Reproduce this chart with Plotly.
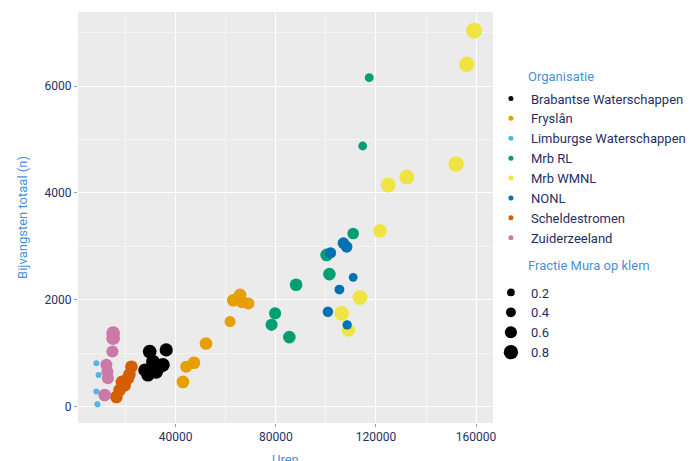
import plotly.graph_objects as go

# ---- data ----
organisaties = ["Brabantse Waterschappen", "Fryslân", "Limburgse Waterschappen", "Mrb RL",
                "Mrb WMNL", "NONL", "Scheldestromen", "Zuiderzeeland"]

uren_brabantse = [29600, 36200, 30900, 33600, 32200, 28900, 34900, 27700]
vangst_brabantse = [1030, 1060, 840, 745, 650, 590, 780, 680]
fractie_brabantse = [0.75, 0.7, 0.75, 0.75, 0.75, 0.7, 0.75, 0.7]

uren_fryslan = [63000, 65700, 69000, 66500, 61700, 52100, 47300, 44200, 42900]
vangst_fryslan = [1990, 2090, 1930, 1960, 1590, 1180, 820, 745, 460]
fractie_fryslan = [0.65, 0.65, 0.6, 0.65, 0.5, 0.65, 0.65, 0.6, 0.65]

uren_limburg = [8300, 9200, 8300, 8700]
vangst_limburg = [810, 590, 280, 40]
fractie_limburg = [0.05, 0.05, 0.05, 0.05]

uren_mrbrl = [117300, 114700, 110900, 100300, 101400, 88100, 79700, 78300, 85400]
vangst_mrbrl = [6160, 4880, 3240, 2840, 2480, 2280, 1745, 1530, 1300]
fractie_mrbrl = [0.3, 0.3, 0.55, 0.65, 0.65, 0.65, 0.6, 0.6, 0.65]

uren_wmnl = [159200, 156300, 152000, 132300, 124900, 121600, 113600, 106300, 109000]
vangst_wmnl = [7040, 6410, 4540, 4300, 4150, 3290, 2040, 1745, 1430]
fractie_wmnl = [0.95, 0.9, 0.9, 0.85, 0.85, 0.75, 0.85, 0.85, 0.7]

uren_nonl = [107000, 108300, 101900, 110900, 105400, 100800, 108500]
vangst_nonl = [3060, 2990, 2880, 2420, 2190, 1775, 1530]
fractie_nonl = [0.55, 0.55, 0.5, 0.3, 0.4, 0.45, 0.35]

uren_schelde = [22300, 20900, 19600, 17600, 16300, 18500, 21500]
vangst_schelde = [745, 530, 400, 310, 180, 460, 600]
fractie_schelde = [0.65, 0.65, 0.65, 0.65, 0.65, 0.65, 0.65]

uren_zuider = [15000, 15000, 14700, 12300, 12700, 12900, 11600]
vangst_zuider = [1375, 1280, 1030, 780, 650, 530, 215]
fractie_zuider = [0.75, 0.75, 0.6, 0.6, 0.6, 0.6, 0.65]

fractie_legend = [0.2, 0.4, 0.6, 0.8]
x_ticks = [40000, 80000, 120000, 160000]
y_ticks = [0, 2000, 4000, 6000]

# ---- style ----
colors = ["#000000", "#E69F00", "#56B4E9", "#009E73", "#F0E442", "#0072B2", "#D55E00", "#CC79A7"]
series = [
    (uren_brabantse, vangst_brabantse, fractie_brabantse),
    (uren_fryslan, vangst_fryslan, fractie_fryslan),
    (uren_limburg, vangst_limburg, fractie_limburg),
    (uren_mrbrl, vangst_mrbrl, fractie_mrbrl),
    (uren_wmnl, vangst_wmnl, fractie_wmnl),
    (uren_nonl, vangst_nonl, fractie_nonl),
    (uren_schelde, vangst_schelde, fractie_schelde),
    (uren_zuider, vangst_zuider, fractie_zuider),
]

def size_of(f):
    return 5.5 + 11 * f

NAVY = "#1f2f66"
BLUE = "#4a8fdc"
FONT = "Roboto"

fig = go.Figure()

for name, col, (xs, ys, fs) in zip(organisaties, colors, series):
    fig.add_trace(go.Scatter(
        x=xs, y=ys, mode="markers", name=name, showlegend=False,
        marker=dict(color=col, size=[size_of(f) for f in fs], opacity=1, line=dict(width=0)),
    ))

# legend entries for organisations
for name, col in zip(organisaties, colors):
    fig.add_trace(go.Scatter(
        x=[None], y=[None], mode="markers", name=name, legend="legend",
        marker=dict(color=col, size=5, opacity=1, line=dict(width=0)),
    ))

# legend entries for size
for f in fractie_legend:
    fig.add_trace(go.Scatter(
        x=[None], y=[None], mode="markers", name=str(f), legend="legend2",
        marker=dict(color="#000000", size=size_of(f), opacity=1, line=dict(width=0)),
    ))

# page has an 8px body margin, so the figure is sized/margined to compensate
fig.update_layout(
    width=692, height=453,
    margin=dict(l=70, r=207, t=4, b=38, autoexpand=False),
    paper_bgcolor="white", plot_bgcolor="#EBEBEB",
    font=dict(family=FONT, size=12, color=NAVY),
    legend=dict(x=0.995, y=0.826, xanchor="left", yanchor="top",
                font=dict(size=13, color=NAVY), itemwidth=30, bgcolor="rgba(0,0,0,0)"),
    legend2=dict(x=0.995, y=0.354, xanchor="left", yanchor="top",
                 font=dict(size=13, color=NAVY), itemwidth=30, bgcolor="rgba(0,0,0,0)"),
    annotations=[
        dict(text="Organisatie", xref="paper", yref="paper", x=1.08, y=0.844,
             xanchor="left", yanchor="middle", showarrow=False,
             font=dict(size=13, color=BLUE)),
        dict(text="Fractie Mura op klem", xref="paper", yref="paper", x=1.08, y=0.384,
             xanchor="left", yanchor="middle", showarrow=False,
             font=dict(size=13, color=BLUE)),
        dict(text="Uren", xref="paper", yref="paper", x=0.5, y=-0.088,
             xanchor="center", yanchor="middle", showarrow=False,
             font=dict(size=13, color=BLUE)),
    ],
)

fig.update_xaxes(
    range=[960, 166760], tickvals=x_ticks, ticktext=[str(v) for v in x_ticks],
    showgrid=True, gridcolor="white", gridwidth=1.3, zeroline=False,
    minor=dict(dtick=20000, tick0=0, showgrid=True, gridcolor="#F5F5F5", gridwidth=0.6),
    ticks="outside", ticklen=3, tickcolor="#9a9a9a", tickfont=dict(size=12, color=NAVY),
    showline=False,
)
fig.update_yaxes(
    range=[-309, 7390], tickvals=y_ticks, ticktext=[str(v) for v in y_ticks],
    showgrid=True, gridcolor="white", gridwidth=1.3, zeroline=False,
    minor=dict(dtick=1000, tick0=0, showgrid=True, gridcolor="#F5F5F5", gridwidth=0.6),
    ticks="outside", ticklen=3, tickcolor="#9a9a9a", tickfont=dict(size=12, color=NAVY),
    title=dict(text="Bijvangsten totaal (n)", font=dict(size=13, color=BLUE), standoff=14),
    showline=False,
)

fig.write_html("out.html")
